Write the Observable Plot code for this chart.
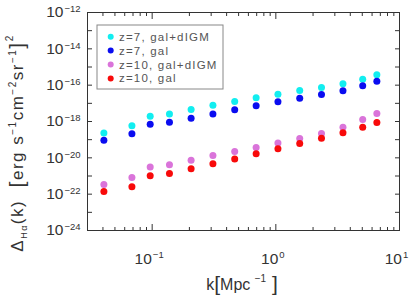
<!DOCTYPE html>
<html><head><meta charset="utf-8">
<script src="https://cdn.jsdelivr.net/npm/d3@7"></script>
<script src="https://cdn.jsdelivr.net/npm/@observablehq/plot@0.6"></script>
<style>
body{margin:0;background:#fff}
svg{font-family:"Liberation Sans",Arial,sans-serif}
</style>
</head><body><div id="chart"></div>
<script>
// wavenumber k [Mpc^-1]
const k = [0.0407, 0.0686, 0.0964, 0.138, 0.2065, 0.310, 0.465, 0.693, 1.04, 1.56, 2.34, 3.49, 5.04, 6.56];
// Delta_Halpha(k) [erg s^-1 cm^-2 sr^-1]^2
const z7_galdIGM  = [2.3e-19, 5.8e-19, 1.95e-18, 2.6e-18, 4.6e-18, 7.9e-18, 1.26e-17, 2.0e-17, 3.2e-17, 5.1e-17, 7.4e-17, 1.2e-16, 2.1e-16, 3.7e-16];
const z7_gal      = [9.3e-20, 2.1e-19, 7.1e-19, 9.1e-19, 1.5e-18, 2.6e-18, 4.5e-18, 7.4e-18, 1.23e-17, 1.9e-17, 3.1e-17, 4.9e-17, 9.3e-17, 1.66e-16];
const z10_galdIGM = [3.4e-22, 8.3e-22, 3.1e-21, 4.2e-21, 7.4e-21, 1.35e-20, 2.2e-20, 3.7e-20, 6.5e-20, 1.17e-19, 2.2e-19, 4.9e-19, 1.29e-18, 2.75e-18];
const z10_gal     = [1.4e-22, 2.6e-22, 1.02e-21, 1.38e-21, 2.5e-21, 4.7e-21, 8.5e-21, 1.66e-20, 3.2e-20, 6.2e-20, 1.2e-19, 2.4e-19, 4.9e-19, 8.9e-19];

const seriesNames = ["z=7, gal+dIGM", "z=7, gal", "z=10, gal+dIGM", "z=10, gal"];
const seriesValues = [z7_galdIGM, z7_gal, z10_galdIGM, z10_gal];
const seriesColors = ["#12eef0", "#0a0cf0", "#da74da", "#f80a0a"];

const xMajorTicks = [0.1, 1, 10];
const xMinorTicks = [0.04,0.05,0.06,0.07,0.08,0.09,0.2,0.3,0.4,0.5,0.6,0.7,0.8,0.9,2,3,4,5,6,7,8,9];
const yLabelTicks = [1e-12,1e-14,1e-16,1e-18,1e-20,1e-22,1e-24];
const yDecadeTicks = [1e-13,1e-15,1e-17,1e-19,1e-21,1e-23];

const rows = [];
seriesValues.forEach((vals, s) => vals.forEach((v, i) => rows.push({k: k[i], v, s: seriesNames[s]})));

const fmt = d => "10|" + Math.round(Math.log10(d));
const blank = () => "";
const axisColor = "#333";

const plot = Plot.plot({
  width: 415, height: 296,
  marginLeft: 87, marginRight: 16, marginTop: 12, marginBottom: 66,
  style: {fontFamily: '"Liberation Sans", Arial, sans-serif', background: "white", color: axisColor},
  x: {type: "log", domain: [0.03, 10]},
  y: {type: "log", domain: [1e-24, 1e-12]},
  color: {domain: seriesNames, range: seriesColors},
  marks: [
    Plot.frame({stroke: axisColor}),
    Plot.axisX({anchor: "bottom", ticks: xMajorTicks, tickSize: -6, tickFormat: blank, label: null, stroke: axisColor}),
    Plot.axisX({anchor: "bottom", ticks: xMinorTicks, tickSize: -3, tickFormat: blank, label: null, stroke: axisColor}),
    Plot.axisX({anchor: "top", ticks: xMajorTicks, tickSize: -6, tickFormat: blank, label: null, stroke: axisColor}),
    Plot.axisX({anchor: "top", ticks: xMinorTicks, tickSize: -3, tickFormat: blank, label: null, stroke: axisColor}),
    Plot.axisY({anchor: "left", ticks: [...yLabelTicks, ...yDecadeTicks], tickSize: -5, tickFormat: blank, label: null, stroke: axisColor}),
    Plot.axisY({anchor: "right", ticks: [...yLabelTicks, ...yDecadeTicks], tickSize: -5, tickFormat: blank, label: null, stroke: axisColor}),
    Plot.axisX({anchor: "bottom", ticks: xMajorTicks, tickSize: 0, tickPadding: 22, tickFormat: fmt, label: null, fontSize: 15.5, dx: -3}),
    Plot.axisY({anchor: "left", ticks: yLabelTicks, tickSize: 0, tickPadding: 7, tickFormat: fmt, label: null, fontSize: 15.5}),
    Plot.dot(rows, {x: "k", y: "v", fill: "s", r: 3.5})
  ]
});

const svg = d3.select(plot);
svg.selectAll("text").each(function() {
  const t = d3.select(this);
  const s = t.text();
  if (s.startsWith("10|")) {
    const e = s.slice(3);
    t.text("10");
    t.append("tspan").attr("font-size", 9.5).attr("dy", "-0.55em").attr("dx", 1).text(e.replace("-", "\u2212"));
  }
});

// axis titles
const ylab = svg.append("text")
  .attr("transform", "translate(23,143) rotate(-90)")
  .attr("text-anchor", "middle")
  .attr("font-size", 17).attr("letter-spacing", 1.5).attr("fill", axisColor);
ylab.append("tspan").text("\u0394");
ylab.append("tspan").attr("font-size", 9).attr("dy", 4).text("H\u03b1");
ylab.append("tspan").attr("dy", -4).text("(k)  ");
ylab.append("tspan").attr("font-size", 21).attr("dy", 1).text("[");
ylab.append("tspan").attr("dy", -1).text("erg s");
ylab.append("tspan").attr("font-size", 10).attr("dy", -7).text("\u22121");
ylab.append("tspan").attr("dy", 7).text("cm");
ylab.append("tspan").attr("font-size", 10).attr("dy", -7).text("\u22122");
ylab.append("tspan").attr("dy", 7).text("sr");
ylab.append("tspan").attr("font-size", 10).attr("dy", -7).text("\u22121");
ylab.append("tspan").attr("dy", 8).attr("font-size", 21).text("]");
ylab.append("tspan").attr("font-size", 10).attr("dy", -11).text("2");

const xlab = svg.append("text")
  .attr("x", 242).attr("y", 290)
  .attr("text-anchor", "middle")
  .attr("font-size", 16).attr("fill", axisColor);
xlab.append("tspan").text("k");
xlab.append("tspan").attr("font-size", 21).attr("dy", 1).text("[");
xlab.append("tspan").attr("dy", -1).text("Mpc ");
xlab.append("tspan").attr("font-size", 10).attr("dy", -8).text("\u22121");
xlab.append("tspan").attr("font-size", 21).attr("dy", 9).text(" ]");

// legend
const lg = svg.append("g");
lg.append("rect").attr("x", 97).attr("y", 25).attr("width", 126).attr("height", 64)
  .attr("fill", "white").attr("stroke", "#888");
seriesNames.forEach((name, i) => {
  const cy = 36.7 + i * 13.9;
  lg.append("circle").attr("cx", 110.7).attr("cy", cy).attr("r", 3).attr("fill", seriesColors[i]);
  lg.append("text").attr("x", 119).attr("y", cy + 4).attr("font-size", 11.5)
    .attr("text-anchor", "start")
    .attr("letter-spacing", 1.2).attr("fill", "#555").text(name);
});

document.getElementById("chart").appendChild(plot);
</script>
</body></html>
